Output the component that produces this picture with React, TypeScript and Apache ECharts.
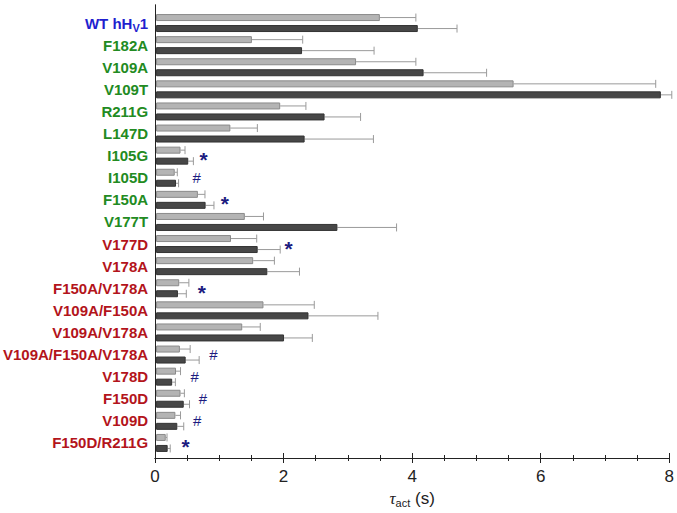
import React, { useEffect, useRef } from "react";
import * as echarts from "echarts";

const categories = [
  "WT hHV1", "F182A", "V109A", "V109T", "R211G", "L147D", "I105G", "I105D", "F150A", "V177T",
  "V177D", "V178A", "F150A/V178A", "V109A/F150A", "V109A/V178A", "V109A/F150A/V178A",
  "V178D", "F150D", "V109D", "F150D/R211G",
];
const labelGroups = [
  "wt", "g", "g", "g", "g", "g", "g", "g", "g", "g",
  "r", "r", "r", "r", "r", "r", "r", "r", "r", "r",
];
const lightMean = [3.48, 1.49, 3.11, 5.56, 1.93, 1.155, 0.38, 0.29, 0.65, 1.38, 1.165, 1.51, 0.36, 1.67, 1.34, 0.37, 0.31, 0.38, 0.30, 0.15];
const lightSD = [0.56, 0.79, 0.93, 2.21, 0.40, 0.42, 0.07, 0.04, 0.11, 0.29, 0.40, 0.33, 0.15, 0.79, 0.28, 0.16, 0.07, 0.06, 0.08, 0.02];
const darkMean = [4.07, 2.27, 4.16, 7.85, 2.62, 2.31, 0.50, 0.31, 0.77, 2.82, 1.58, 1.73, 0.34, 2.37, 1.99, 0.46, 0.25, 0.43, 0.33, 0.18];
const darkSD = [0.61, 1.12, 0.98, 0.17, 0.56, 1.07, 0.08, 0.04, 0.13, 0.92, 0.35, 0.50, 0.13, 1.08, 0.44, 0.21, 0.05, 0.09, 0.10, 0.04];

const annotCategory = ["I105G", "I105D", "F150A", "V177D", "F150A/V178A", "V109A/F150A/V178A", "V178D", "F150D", "V109D", "F150D/R211G"];
const annotSymbol = ["*", "#", "*", "*", "*", "#", "#", "#", "#", "*"];
const annotX = [0.74, 0.63, 1.07, 2.06, 0.71, 0.89, 0.60, 0.73, 0.64, 0.46];

const xTicks = [0, 2, 4, 6, 8];

const BAR_OFFSET = 5.5;
const FONT = "Liberation Sans, Arial, sans-serif";

export default function App() {
  const ref = useRef<HTMLDivElement>(null);
  useEffect(() => {
    if (!ref.current) return;
    const chart = echarts.init(ref.current, null, { renderer: "svg" });

    const errData = (mean: number[], sd: number[], sign: number) =>
      mean.map((m, i) => [m, i, sd[i], sign]);

    const errRender = (params: any, api: any) => {
      const m = api.value(0);
      const idx = api.value(1);
      const sd = api.value(2);
      const sign = api.value(3);
      const s = api.coord([m, idx]);
      const e = api.coord([m + sd, idx]);
      const y = s[1] + sign * BAR_OFFSET;
      const st = { stroke: "#9a9a9a", lineWidth: 1 };
      return {
        type: "group",
        children: [
          { type: "line", shape: { x1: s[0], y1: y, x2: e[0], y2: y }, style: st },
          { type: "line", shape: { x1: e[0], y1: y - 4, x2: e[0], y2: y + 4 }, style: st },
        ],
      };
    };

    const annotData = annotCategory.map((c, i) => [annotX[i], categories.indexOf(c), annotSymbol[i]]);

    const option: any = {
      animation: false,
      backgroundColor: "#ffffff",
      grid: [
        { left: 155, right: 6.5, top: 12, bottom: 59 },
        { left: 155, right: 6.5, top: 5, bottom: 53 },
      ],
      xAxis: [
        {
          gridIndex: 0, type: "value", min: 0, max: 8, show: false,
        },
        {
          gridIndex: 1, type: "value", min: 0, max: 8, interval: 2, position: "bottom",
          axisLine: { show: true, lineStyle: { color: "#222", width: 1 } },
          axisTick: { show: true, inside: true, length: 5, lineStyle: { color: "#222" } },
          minorTick: { show: true, splitNumber: 4, length: 3, lineStyle: { color: "#222" } },
          splitLine: { show: false },
          axisLabel: {
            show: true, margin: 10, fontSize: 17, color: "#222", fontFamily: FONT,
            formatter: (v: number) => (xTicks.includes(v) ? String(v) : ""),
          },
          name: "{tau|τ}{sub|act}{s| (s)}",
          nameLocation: "middle",
          nameGap: 31,
          nameTextStyle: {
            rich: {
              tau: { fontSize: 17, fontStyle: "italic", fontFamily: "Liberation Serif, serif", color: "#222" },
              sub: { fontSize: 11, fontFamily: FONT, color: "#222", padding: [8, 0, 0, 0] },
              s: { fontSize: 17, fontFamily: FONT, color: "#222" },
            },
          },
        },
        {
          gridIndex: 1, type: "value", min: 0, max: 8, interval: 2, position: "top",
          axisLine: { show: true, lineStyle: { color: "#222", width: 1 } },
          axisTick: { show: true, inside: true, length: 5, lineStyle: { color: "#222" } },
          minorTick: { show: true, splitNumber: 4, length: 3, lineStyle: { color: "#222" } },
          splitLine: { show: false },
          axisLabel: { show: false },
        },
      ],
      yAxis: [
        {
          gridIndex: 0, type: "category", inverse: true, data: categories,
          axisLine: { show: false }, axisTick: { show: false }, splitLine: { show: false },
          axisLabel: {
            margin: 8,
            formatter: (v: string, i: number) => {
              if (labelGroups[i] === "wt") return "{wt|WT hH}{wtsub|V}{wt|1}";
              return `{${labelGroups[i]}|${v}}`;
            },
            rich: {
              wt: { color: "#1f1fcf", fontWeight: "bold", fontSize: 15, fontFamily: FONT, lineHeight: 18 },
              wtsub: { color: "#1f1fcf", fontWeight: "bold", fontSize: 11, fontFamily: FONT, padding: [9, 0, 0, 0] },
              g: { color: "#228b22", fontWeight: "bold", fontSize: 15, fontFamily: FONT },
              r: { color: "#b3141b", fontWeight: "bold", fontSize: 15, fontFamily: FONT },
            },
          },
        },
        {
          gridIndex: 1, type: "value", min: 0, max: 1, position: "left",
          axisLine: { show: true, lineStyle: { color: "#222", width: 1 } },
          axisTick: { show: false }, axisLabel: { show: false }, splitLine: { show: false },
        },
        {
          gridIndex: 1, type: "value", min: 0, max: 1, position: "right",
          axisLine: { show: true, lineStyle: { color: "#222", width: 1 } },
          axisTick: { show: false }, axisLabel: { show: false }, splitLine: { show: false },
        },
      ],
      series: [
        {
          type: "bar", xAxisIndex: 0, yAxisIndex: 0, data: lightMean,
          barWidth: 7, barGap: "57%",
          itemStyle: { color: "#b4b4b4", borderColor: "#8a8a8a", borderWidth: 1 },
          z: 2,
        },
        {
          type: "bar", xAxisIndex: 0, yAxisIndex: 0, data: darkMean,
          barWidth: 7, barGap: "57%",
          itemStyle: { color: "#474747", borderColor: "#333333", borderWidth: 1 },
          z: 2,
        },
        {
          type: "custom", xAxisIndex: 0, yAxisIndex: 0, data: errData(lightMean, lightSD, -1),
          encode: { x: 0, y: 1 }, renderItem: errRender, z: 1, clip: false,
        },
        {
          type: "custom", xAxisIndex: 0, yAxisIndex: 0, data: errData(darkMean, darkSD, 1),
          encode: { x: 0, y: 1 }, renderItem: errRender, z: 1, clip: false,
        },
        {
          type: "custom", xAxisIndex: 0, yAxisIndex: 0, data: annotData,
          encode: { x: 0, y: 1 },
          renderItem: (params: any, api: any) => {
            const p = api.coord([api.value(0), api.value(1)]);
            const sym = annotData[params.dataIndex][2] as string;
            const star = sym === "*";
            return {
              type: "text",
              x: p[0],
              y: p[1] + (star ? 4 : 0),
              style: {
                text: sym,
                fill: "#1c1c80",
                font: star ? `bold 21px ${FONT}` : `15px ${FONT}`,
                align: "center",
                verticalAlign: "middle",
              },
            };
          },
          z: 3,
        },
      ],
    };
    chart.setOption(option);
    return () => chart.dispose();
  }, []);
  return <div ref={ref} style={{ width: 677, height: 513, position: "absolute", left: 0, top: 0 }} />;
}
